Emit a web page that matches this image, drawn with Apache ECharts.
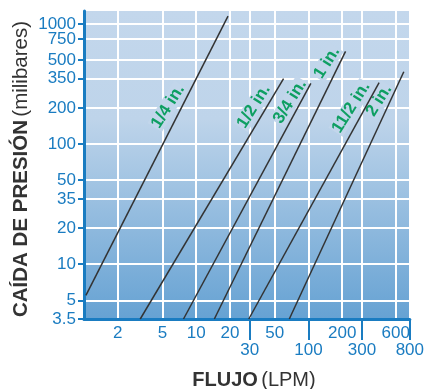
<!DOCTYPE html>
<html>
<head>
<meta charset="utf-8">
<script src="https://cdn.jsdelivr.net/npm/echarts@6/dist/echarts.min.js"></script>
<style>
  html, body { margin: 0; padding: 0; background: #fff; }
  #chart { width: 427px; height: 389px; }
</style>
</head>
<body>
<div id="chart"></div>
<script>
// tick values
// 750 sits on its own axis so the 1000 label doesn't knock it out
const yTicks = [3.5, 5, 10, 20, 35, 50, 100, 200, 350, 500, 1000]
const yTicksExtra = [750]
const xTicksTop = [2, 5, 10, 20, 50, 200, 600]
const xTicksBottom = [30, 100, 300, 800]
const xGrid = [2, 5, 10, 20, 30, 50, 100, 200, 300, 600, 800]

// pipe sizes: [flow LPM, pressure drop mbar] at both ends of each line
const sizes = ['1/4 in.', '1/2 in.', '3/4 in.', '1 in.', '11/2 in.', '2 in.']
const lineStart = [[1.04, 5.5], [3.17, 3.5], [7.7, 3.5], [14.5, 3.5], [29.4, 3.5], [67.5, 3.5]]
const lineEnd = [[19.2, 1160], [60, 350], [105, 320], [214, 590], [426, 325], [707, 400]]
// where the size labels sit
const labelPos = [[5.6, 206], [32.5, 206], [68.5, 226], [146, 476], [240, 202], [425, 231]]

const blue = '#1a7cc1'
const green = '#0e9f62'
const font = 'Liberation Sans, Arial, sans-serif'

const chart = echarts.init(document.getElementById('chart'))

const series = sizes.map((name, i) => ({
  name: name,
  type: 'line',
  xAxisIndex: 0,
  yAxisIndex: 0,
  data: [lineStart[i], lineEnd[i]],
  showSymbol: false,
  silent: true,
  z: 5,
  lineStyle: { color: '#333', width: 1.5 },
  markPoint: {
    symbol: 'rect',
    symbolSize: 1,
    itemStyle: { color: 'rgba(0,0,0,0)' },
    label: {
      show: true,
      position: 'inside',
      formatter: name,
      rotate: 58,
      color: green,
      fontFamily: font,
      fontWeight: 'bold',
      fontSize: 17,
      backgroundColor: '#c2d6eb',
      padding: [0, 1]
    },
    data: [{ coord: labelPos[i] }]
  }
}))

const yAxisFor = (ticks, showLine) => ({
  type: 'log',
  logBase: 10,
  min: 3.5,
  max: 1280,
  position: 'left',
  axisLine: { show: showLine, lineStyle: { color: blue, width: 3 } },
  axisTick: {
    show: true,
    customValues: ticks,
    length: 6,
    lineStyle: { color: blue, width: 2 }
  },
  axisLabel: {
    customValues: ticks,
    formatter: v => String(v),
    showMinLabel: true,
    showMaxLabel: true,
    color: blue,
    fontSize: 17,
    margin: 8
  },
  splitLine: { show: true, lineStyle: { color: '#fff', width: 2 } }
})

const option = {
  animation: false,
  textStyle: { fontFamily: font },
  grid: {
    left: 84,
    right: 12,
    top: 11,
    bottom: 70,
    show: true,
    borderWidth: 0,
    backgroundColor: new echarts.graphic.LinearGradient(0, 0, 0, 1, [
      { offset: 0, color: '#c3d7ec' },
      { offset: 0.35, color: '#bed4ea' },
      { offset: 1, color: '#66a2d3' }
    ])
  },
  xAxis: [
    {
      type: 'log',
      logBase: 10,
      min: 1,
      max: 800,
      axisLine: { lineStyle: { color: blue, width: 3 } },
      axisTick: { show: false, customValues: xGrid },
      axisLabel: {
        customValues: xTicksTop,
        color: blue,
        fontSize: 17,
        margin: 6
      },
      splitLine: { show: true, lineStyle: { color: '#fff', width: 2 } }
    },
    {
      type: 'log',
      logBase: 10,
      min: 1,
      max: 800,
      position: 'bottom',
      axisLine: { show: false },
      axisTick: {
        show: true,
        customValues: xTicksBottom,
        length: 21,
        lineStyle: { color: blue, width: 2 }
      },
      axisLabel: {
        customValues: xTicksBottom,
        color: blue,
        fontSize: 17,
        margin: 23,
        showMaxLabel: true
      },
      splitLine: { show: false }
    }
  ],
  yAxis: [yAxisFor(yTicks, true), yAxisFor(yTicksExtra, false)],
  graphic: [
    {
      type: 'text',
      x: 21,
      y: 169,
      rotation: Math.PI / 2,
      style: {
        text: '{b|CAÍDA DE PRESIÓN} {n|(milibares)}',
        align: 'center',
        verticalAlign: 'middle',
        rich: {
          b: { fontSize: 20.5, fontWeight: 'bold', fill: '#333', fontFamily: font },
          n: { fontSize: 20.5, fill: '#333', fontFamily: font }
        }
      }
    },
    {
      type: 'text',
      x: 254,
      y: 380,
      style: {
        text: '{b|FLUJO} {n|(LPM)}',
        align: 'center',
        verticalAlign: 'middle',
        rich: {
          b: { fontSize: 20, fontWeight: 'bold', fill: '#333', fontFamily: font },
          n: { fontSize: 20, fill: '#333', fontFamily: font }
        }
      }
    }
  ],
  series: series
}

chart.setOption(option)
</script>
</body>
</html>
